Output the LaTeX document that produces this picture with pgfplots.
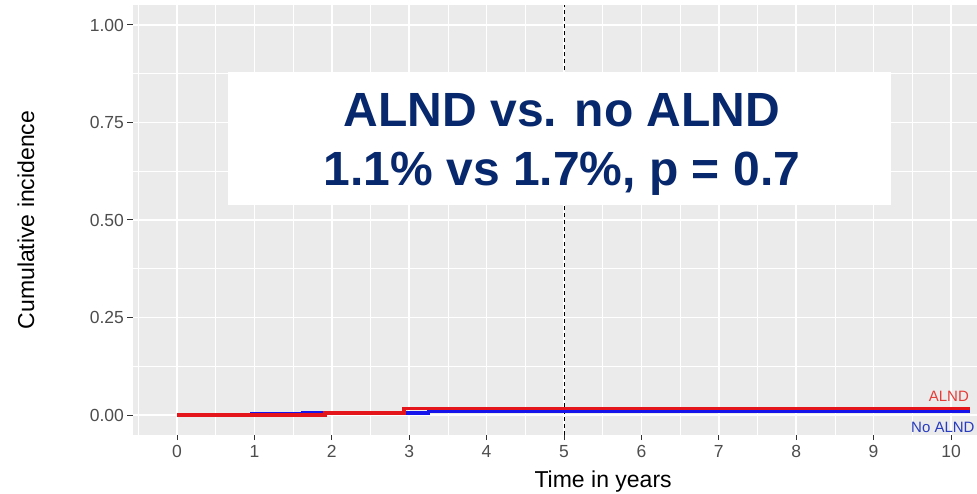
\documentclass[border=0pt]{standalone}
\usepackage{fontspec}
\setmainfont{Liberation Sans}
\usepackage{pgfplots}
\pgfplotsset{compat=1.18}
\definecolor{ggbg}{RGB}{235,235,235}
\definecolor{ggtext}{RGB}{77,77,77}
\definecolor{ggtick}{RGB}{51,51,51}
\definecolor{navy}{RGB}{8,40,110}
\definecolor{kmred}{RGB}{228,22,28}
\definecolor{kmblue}{RGB}{20,20,235}
\definecolor{labred}{RGB}{230,60,55}
\definecolor{labblue}{RGB}{40,60,190}
\begin{document}
\begin{tikzpicture}
\path[use as bounding box] (0pt,0pt) rectangle (977pt,493pt);
\begin{axis}[
  at={(133pt,58.5pt)}, anchor=south west,
  scale only axis, width=844pt, height=429pt,
  xmin=-0.5685, xmax=10.336, ymin=-0.05, ymax=1.05,
  clip=false,
  axis background/.style={fill=ggbg},
  axis line style={draw=none},
  xtick={0,1,2,3,4,5,6,7,8,9,10},
  ytick={0,0.25,0.5,0.75,1},
  yticklabels={0.00,0.25,0.50,0.75,1.00},
  minor xtick={-0.5,0.5,1.5,2.5,3.5,4.5,5.5,6.5,7.5,8.5,9.5},
  minor ytick={0.125,0.375,0.625,0.875},
  grid=both,
  major grid style={white, line width=1.6pt},
  minor grid style={white, line width=0.8pt},
  tick align=outside, xtick pos=bottom, ytick pos=left,
  major tick length=5.5pt, minor tick length=0pt,
  every tick/.style={color=ggtick, line width=1pt},
  ticklabel style={font=\fontsize{17.5}{20}\selectfont, text=ggtext},
  /pgf/number format/assume math mode=true,
  xticklabel style={yshift=-2pt},
  yticklabel style={xshift=0pt},
  xlabel={Time in years},
  ylabel={Cumulative incidence},
  every axis x label/.style={at={(axis description cs:0.557,0)}, anchor=base, yshift=-52.5pt, font=\fontsize{23}{27}\selectfont, inner sep=0pt},
  every axis y label/.style={at={(axis description cs:-0.127,0.5)}, rotate=90, anchor=center, font=\fontsize{23}{27}\selectfont, inner sep=0pt},
]
% dashed reference line at 5 years
\addplot[black, line width=0.8pt, dash pattern=on 4pt off 3pt] coordinates {(5,-0.05) (5,1.05)};
% No ALND (blue)
\addplot[const plot, kmblue, line width=3.6pt] coordinates {
  (0,0) (0.96,0.002) (1.63,0.005) (3.25,0.010) (10.25,0.010)};
% ALND (red)
\addplot[const plot, kmred, line width=3.6pt] coordinates {
  (0,0) (1.91,0.005) (2.93,0.017) (10.25,0.017)};
% annotation box
\fill[white] (axis cs:0.659,0.538) rectangle (axis cs:9.225,0.879);
\node[anchor=base, text=navy, font=\fontsize{48}{58}\selectfont\bfseries, inner sep=0pt] at (axis cs:4.974,0.7385) {ALND vs. no ALND};
\node[anchor=base, text=navy, font=\fontsize{48}{58}\selectfont\bfseries, inner sep=0pt] at (axis cs:4.974,0.5897) {1.1\% vs 1.7\%, p = 0.7};
% curve labels
\node[anchor=base east, text=labred, font=\fontsize{15}{18}\selectfont, inner sep=0pt] at (axis cs:10.233,0.034) {ALND};
\node[anchor=base west, text=labblue, font=\fontsize{15}{18}\selectfont, inner sep=0pt] at (axis cs:9.483,-0.046) {No ALND};
\end{axis}
\end{tikzpicture}
\end{document}
